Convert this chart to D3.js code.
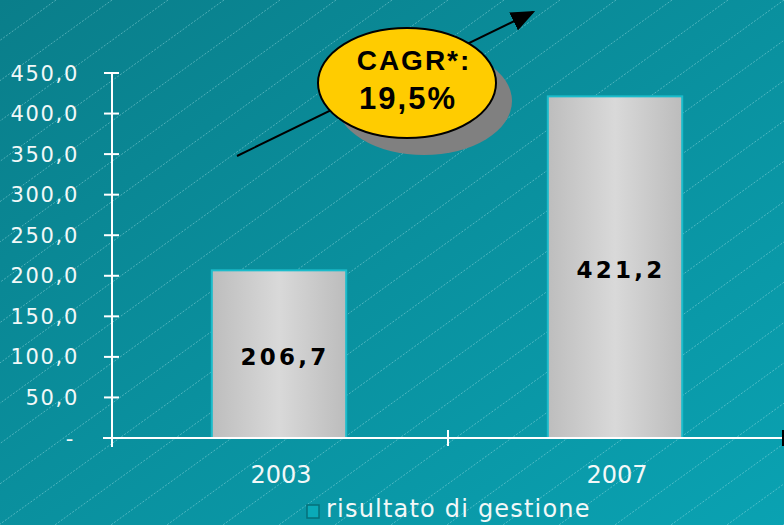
<!DOCTYPE html>
<html>
<head>
<meta charset="utf-8">
<script src="https://cdn.jsdelivr.net/npm/d3@7"></script>
<style>
  html, body { margin: 0; padding: 0; }
  body { width: 784px; height: 525px; overflow: hidden; }
  svg { display: block; }
</style>
</head>
<body>
<div id="chart"></div>
<script>
const years = [`2003`, `2007`];
const values = [206.7, 421.2];
const yTicks = [0, 50, 100, 150, 200, 250, 300, 350, 400, 450];
const seriesName = `risultato di gestione`;
const cagrLines = [`CAGR*:`, `19,5%`];

const width = 784;
const height = 525;
const margin = { top: 73, right: 1, bottom: 87, left: 111 };

const svg = d3.select(`#chart`).append(`svg`)
    .attr(`width`, width)
    .attr(`height`, height);

const defs = svg.append(`defs`);

const bg = defs.append(`linearGradient`)
    .attr(`id`, `bg`)
    .attr(`x1`, `0%`).attr(`y1`, `0%`)
    .attr(`x2`, `100%`).attr(`y2`, `100%`);
bg.append(`stop`).attr(`offset`, `0%`).attr(`stop-color`, `#0a7e8a`);
bg.append(`stop`).attr(`offset`, `100%`).attr(`stop-color`, `#0aa2b2`);

const barGrad = defs.append(`linearGradient`)
    .attr(`id`, `bar`)
    .attr(`x1`, `0%`).attr(`y1`, `0%`)
    .attr(`x2`, `100%`).attr(`y2`, `0%`);
barGrad.append(`stop`).attr(`offset`, `0%`).attr(`stop-color`, `#bdbdbd`);
barGrad.append(`stop`).attr(`offset`, `50%`).attr(`stop-color`, `#d9d9d9`);
barGrad.append(`stop`).attr(`offset`, `100%`).attr(`stop-color`, `#bcbcbc`);

defs.append(`marker`)
    .attr(`id`, `arrow`)
    .attr(`viewBox`, `0 0 10 10`)
    .attr(`refX`, 9).attr(`refY`, 5)
    .attr(`markerWidth`, 24).attr(`markerHeight`, 20)
    .attr(`markerUnits`, `userSpaceOnUse`)
    .attr(`orient`, `auto`)
    .attr(`preserveAspectRatio`, `none`)
  .append(`path`)
    .attr(`d`, `M0,0 L10,5 L0,10 Z`)
    .attr(`fill`, `#000`);

// background
svg.append(`rect`)
    .attr(`width`, width).attr(`height`, height)
    .attr(`fill`, `url(#bg)`);

// faint diagonal hatch lines
const slope = 0.72;
const hatch = d3.range(-20, 40).map((i) => i * 56);
svg.append(`g`)
    .selectAll(`line`)
    .data(hatch)
  .enter().append(`line`)
    .attr(`x1`, (d) => d)
    .attr(`y1`, 0)
    .attr(`x2`, (d) => d - height / slope)
    .attr(`y2`, height)
    .attr(`stroke`, `#b8eef2`)
    .attr(`stroke-width`, 1)
    .attr(`stroke-dasharray`, `2,1.5`)
    .attr(`opacity`, 0.4);

const x = d3.scaleBand()
    .domain(years)
    .range([margin.left, width - margin.right])
    .paddingInner(0.6)
    .paddingOuter(0.3);

const y = d3.scaleLinear()
    .domain([0, 450])
    .range([height - margin.bottom, margin.top]);

const fmt = (v) => v === 0 ? `-` : d3.format(`.1f`)(v).replace(`.`, `,`);

// bars
const bars = svg.append(`g`);
bars.selectAll(`rect.bar`)
    .data(values)
  .enter().append(`rect`)
    .attr(`class`, `bar`)
    .attr(`x`, (d, i) => x(years[i]))
    .attr(`y`, (d) => y(d))
    .attr(`width`, x.bandwidth())
    .attr(`height`, (d) => y(0) - y(d))
    .attr(`fill`, `url(#bar)`)
    .attr(`stroke`, `#1bbccb`)
    .attr(`stroke-width`, 2);

bars.selectAll(`text`)
    .data(values)
  .enter().append(`text`)
    .attr(`x`, (d, i) => x(years[i]) + x.bandwidth() / 2 + 6)
    .attr(`y`, (d) => (y(d) + y(0)) / 2 + 4)
    .attr(`text-anchor`, `middle`)
    .attr(`dominant-baseline`, `middle`)
    .attr(`font-family`, `"DejaVu Sans", Verdana, sans-serif`)
    .attr(`font-weight`, `bold`)
    .attr(`font-size`, 23)
    .attr(`letter-spacing`, 3.2)
    .attr(`fill`, `#000`)
    .text((d) => fmt(d));

// y axis
const yAxis = svg.append(`g`)
    .attr(`transform`, `translate(${margin.left + 1},0)`);
yAxis.append(`line`)
    .attr(`y1`, y(450)).attr(`y2`, y(0) + 9)
    .attr(`stroke`, `#fff`).attr(`stroke-width`, 2);
yAxis.selectAll(`line.tick`)
    .data(yTicks)
  .enter().append(`line`)
    .attr(`class`, `tick`)
    .attr(`x1`, -8).attr(`x2`, 7)
    .attr(`y1`, (d) => y(d)).attr(`y2`, (d) => y(d))
    .attr(`stroke`, `#fff`).attr(`stroke-width`, 2);
yAxis.selectAll(`text`)
    .data(yTicks)
  .enter().append(`text`)
    .attr(`x`, (d) => d === 0 ? -37 : -33)
    .attr(`y`, (d) => y(d))
    .attr(`dy`, `0.36em`)
    .attr(`text-anchor`, `end`)
    .attr(`font-family`, `"DejaVu Sans", Verdana, sans-serif`)
    .attr(`font-size`, 21)
    .attr(`letter-spacing`, 1.7)
    .attr(`fill`, `#f2f8f8`)
    .text((d) => fmt(d));

// x axis
const xAxis = svg.append(`g`)
    .attr(`transform`, `translate(0,${y(0)})`);
xAxis.append(`line`)
    .attr(`x1`, margin.left - 8).attr(`x2`, width)
    .attr(`stroke`, `#fff`).attr(`stroke-width`, 2);
xAxis.selectAll(`line.tick`)
    .data(d3.range(years.length + 1))
  .enter().append(`line`)
    .attr(`class`, `tick`)
    .attr(`x1`, (d) => margin.left + 1 + d * x.step())
    .attr(`x2`, (d) => margin.left + 1 + d * x.step())
    .attr(`y1`, -8).attr(`y2`, 8)
    .attr(`stroke`, (d) => d === years.length ? `#000` : `#fff`)
    .attr(`stroke-width`, (d) => d === years.length ? 4 : 2);
xAxis.selectAll(`text`)
    .data(years)
  .enter().append(`text`)
    .attr(`x`, (d) => x(d) + x.bandwidth() / 2 + 2)
    .attr(`y`, 45)
    .attr(`text-anchor`, `middle`)
    .attr(`font-family`, `"DejaVu Sans", Verdana, sans-serif`)
    .attr(`font-size`, 24)
    .attr(`fill`, `#f2f8f8`)
    .text((d) => d);

// legend
const legend = svg.append(`g`)
    .attr(`transform`, `translate(307,505)`);
legend.append(`rect`)
    .attr(`width`, 12).attr(`height`, 13)
    .attr(`fill`, `#0aaab8`)
    .attr(`stroke`, `#06707a`)
    .attr(`stroke-width`, 1.5);
legend.append(`text`)
    .attr(`x`, 19).attr(`y`, 12)
    .attr(`font-family`, `"DejaVu Sans", Verdana, sans-serif`)
    .attr(`font-size`, 24)
    .attr(`letter-spacing`, 1.2)
    .attr(`fill`, `#f2f8f8`)
    .text(seriesName);

// CAGR arrow + bubble
svg.append(`line`)
    .attr(`x1`, 237).attr(`y1`, 156)
    .attr(`x2`, 533).attr(`y2`, 12)
    .attr(`stroke`, `#000`).attr(`stroke-width`, 2)
    .attr(`marker-end`, `url(#arrow)`);

svg.append(`ellipse`)
    .attr(`cx`, 424).attr(`cy`, 101)
    .attr(`rx`, 88).attr(`ry`, 54)
    .attr(`fill`, `#808080`);
svg.append(`ellipse`)
    .attr(`cx`, 407).attr(`cy`, 83)
    .attr(`rx`, 89).attr(`ry`, 55)
    .attr(`fill`, `#ffcc00`)
    .attr(`stroke`, `#000`).attr(`stroke-width`, 2);

svg.selectAll(`text.cagr`)
    .data(cagrLines)
  .enter().append(`text`)
    .attr(`class`, `cagr`)
    .attr(`x`, (d, i) => i === 0 ? 414 : 408)
    .attr(`y`, (d, i) => i === 0 ? 70 : 109)
    .attr(`text-anchor`, `middle`)
    .attr(`font-family`, `"Liberation Sans", Arial, sans-serif`)
    .attr(`font-weight`, `bold`)
    .attr(`font-size`, (d, i) => i === 0 ? 28 : 31)
    .attr(`letter-spacing`, 2)
    .attr(`fill`, `#000`)
    .text((d) => d);
</script>
</body>
</html>
